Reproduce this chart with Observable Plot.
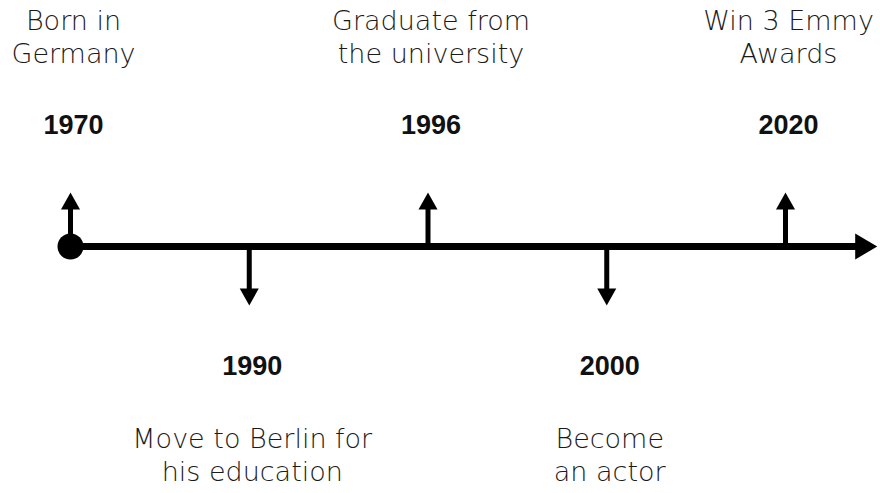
<!DOCTYPE html>
<html><head><meta charset="utf-8">
<script src="https://cdn.jsdelivr.net/npm/d3@7"></script>
<script src="https://cdn.jsdelivr.net/npm/@observablehq/plot@0.6"></script>
<style>html,body{margin:0;padding:0;background:#fff}</style>
</head><body><div id="chart"></div>
<script>
// ---- data ----
const years = ["1970", "1990", "1996", "2000", "2020"];
const events = [
  "Born in\nGermany",
  "Move to Berlin for\nhis education",
  "Graduate from\nthe university",
  "Become\nan actor",
  "Win 3 Emmy\nAwards"
];
const sides = ["up", "down", "up", "down", "up"];

// ---- layout ----
const W = 880, H = 493, axisPx = 246;
const data = years.map((year, i) => ({i, year, event: events[i], dir: sides[i] === "up" ? 1 : -1}));
const tipLen = {up: 54, down: 59};
const headH = 17, headW = 19;
const axisEnd = 4.39; // in slot units

function tri(dx, dy, w, h) {
  // base centered at origin, tip pointing (dx,dy)
  return {draw(ctx) {
    const px = -dy, py = dx;
    ctx.moveTo(dx * h, -dy * h);
    ctx.lineTo(px * w / 2, -py * w / 2);
    ctx.lineTo(-px * w / 2, py * w / 2);
    ctx.closePath();
  }};
}
const upHead = tri(0, 1, headW, headH);
const downHead = tri(0, -1, headW, headH);
const rightHead = tri(1, 0, 26, 22);

const armTip = d => d.dir > 0 ? tipLen.up : -tipLen.down;
const armBase = d => armTip(d) - d.dir * headH;

const chart = Plot.plot({
  width: W, height: H,
  marginTop: 0, marginBottom: 0, marginLeft: 70, marginRight: 95,
  x: {type: "linear", domain: [0, 4], axis: null},
  y: {type: "linear", domain: [axisPx - H, axisPx], range: [H, 0], axis: null},
  style: {background: "#fff", overflow: "visible"},
  marks: [
    Plot.ruleY([0], {x1: 0, x2: axisEnd + 0.01, stroke: "#000", strokeWidth: 7}),
    Plot.dot([axisEnd], {x: d => d, y: 0, symbol: rightHead, r: 5, fill: "#000", stroke: "none"}),
    Plot.ruleX(data, {x: "i", y1: 0, y2: d => armBase(d) + d.dir * 1, stroke: "#000", strokeWidth: 5}),
    Plot.dot(data.filter(d => d.dir > 0), {x: "i", y: armBase, symbol: upHead, r: 5, fill: "#000", stroke: "none"}),
    Plot.dot(data.filter(d => d.dir < 0), {x: "i", y: armBase, symbol: downHead, r: 5, fill: "#000", stroke: "none"}),
    Plot.dot(data.slice(0, 1), {x: "i", y: 0, r: 13, fill: "#000", stroke: "none"}),
    Plot.text(data, {x: "i", y: d => d.dir > 0 ? 113 : -128, text: "year", fontSize: 27, fontWeight: "bold",
      fontFamily: "Liberation Sans", lineAnchor: "bottom", fill: "#111", dx: 3}),
    Plot.text(data, {x: "i", y: d => d.dir > 0 ? 184 : -234, text: "event", fontSize: 27, fontWeight: 300,
      fontFamily: "DejaVu Sans", lineAnchor: "bottom", lineHeight: 1.22, fill: "#1a1a1a", dx: 3})
  ]
});
document.getElementById("chart").append(chart);
</script>
</body></html>
